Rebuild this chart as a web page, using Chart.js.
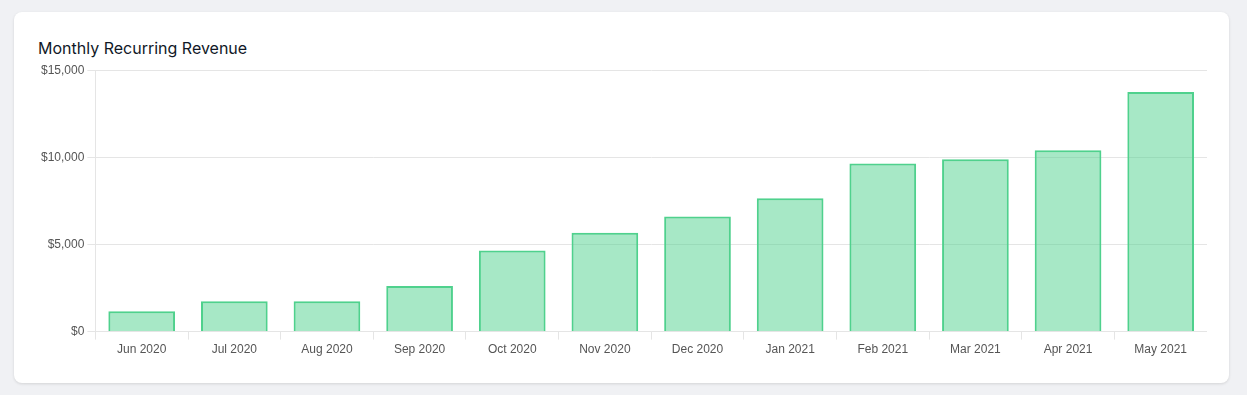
<!DOCTYPE html>
<html>
<head>
<meta charset="utf-8">
<script src="https://cdn.jsdelivr.net/npm/chart.js@4/dist/chart.umd.min.js"></script>
<style>
  body { margin: 0; background: #f0f1f4; }
  .card {
    position: absolute; left: 14px; top: 12px; width: 1215px; height: 371px;
    background: #fff; border-radius: 8px;
    box-shadow: 0 1px 3px rgba(0,0,0,0.12);
  }
  .card h3 {
    position: absolute; left: 24px; top: 26px; margin: 0;
    font: 400 16px/20px Inter, "Noto Sans", sans-serif; color: #111827;
  }
  .wrap { position: absolute; left: 24px; top: 48px; width: 1169px; height: 300px; }
</style>
</head>
<body>
<div class="card">
  <h3>Monthly Recurring Revenue</h3>
  <div class="wrap"><canvas id="chartCanvas"></canvas></div>
</div>
<script>
const months = ["Jun 2020", "Jul 2020", "Aug 2020", "Sep 2020", "Oct 2020", "Nov 2020",
                "Dec 2020", "Jan 2021", "Feb 2021", "Mar 2021", "Apr 2021", "May 2021"];
const revenue = [1170, 1740, 1740, 2620, 4650, 5670, 6600, 7650, 9650, 9890, 10400, 13750];

const gridColor = "#e5e5e5";
const ctx = document.getElementById("chartCanvas").getContext("2d");
const chart = new Chart(ctx, {
    type: "bar",
    data: {
        labels: months,
        datasets: [{
            label: "MRR",
            data: revenue,
            backgroundColor: "rgba(79, 209, 141, 0.5)",
            borderColor: "rgb(79, 209, 141)",
            borderWidth: 2
        }]
    },
    options: {
        responsive: true,
        maintainAspectRatio: false,
        animation: false,
        plugins: { legend: { display: false }, tooltip: { enabled: false } },
        scales: {
            x: {
                grid: { drawOnChartArea: false, color: gridColor, tickLength: 8 },
                border: { color: gridColor },
                ticks: { color: "#555", font: { family: "Liberation Sans", size: 12 } }
            },
            y: {
                min: 0,
                max: 15000,
                ticks: {
                    stepSize: 5000,
                    color: "#555",
                    font: { family: "Liberation Sans", size: 12 },
                    callback: v => "$" + v.toLocaleString("en-US")
                },
                grid: { color: gridColor, tickLength: 8 },
                border: { color: gridColor }
            }
        }
    }
});
</script>
</body>
</html>
